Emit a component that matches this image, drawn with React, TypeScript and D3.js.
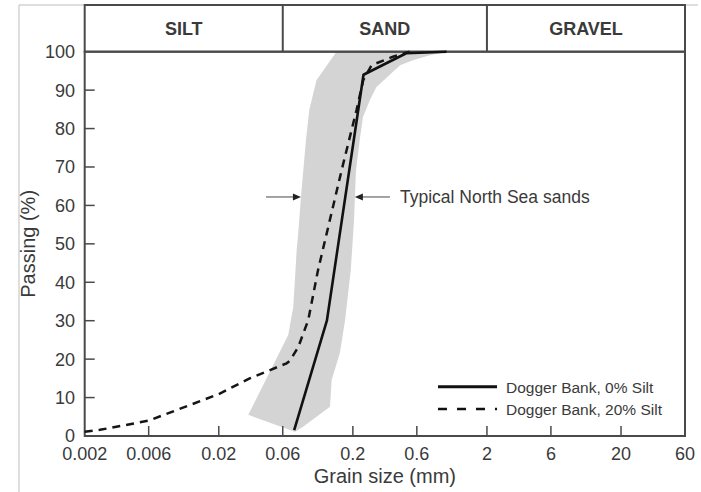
import React from "react";
import * as d3 from "d3";

const xTicks = [0.002, 0.006, 0.02, 0.06, 0.2, 0.6, 2, 6, 20, 60];
const xTickLabels = ["0.002", "0.006", "0.02", "0.06", "0.2", "0.6", "2", "6", "20", "60"];
const yTicks = [0, 10, 20, 30, 40, 50, 60, 70, 80, 90, 100];

const classes = ["SILT", "SAND", "GRAVEL"];
const classBounds = [0.002, 0.06, 2, 60];

// Typical North Sea sands envelope: left boundary (bottom→top), right boundary (top→bottom)
const bandLeft: [number, number][] = [
  [0.0332, 5.5], [0.0659, 26.3], [0.0719, 33.6], [0.0762, 48.4], [0.0783, 52.8],
  [0.082, 62.2], [0.0894, 77], [0.0946, 84.8], [0.107, 92.6], [0.151, 100],
];
const bandRight: [number, number][] = [
  [1.007, 100], [0.75, 99.1], [0.56, 97.8], [0.45, 96.5], [0.30, 90.8], [0.268, 87.4],
  [0.238, 83], [0.225, 77], [0.211, 69.2], [0.204, 56.2], [0.193, 43.2], [0.175, 30.2],
  [0.160, 21.6], [0.139, 14.6], [0.135, 7.6], [0.085, 2.4], [0.074, 1.1],
];

const silt0: [number, number][] = [
  [0.073, 1.5], [0.128, 30], [0.24, 94], [0.5, 99.6], [1.0, 100],
];
const silt20: [number, number][] = [
  [0.002, 1.1], [0.0026, 1.6], [0.006, 4.0], [0.02, 10.9], [0.034, 15.0], [0.064, 18.9],
  [0.068, 19.6], [0.0784, 23.2], [0.093, 30.2], [0.110, 43.2], [0.165, 69.2], [0.213, 84.8],
  [0.239, 92.6], [0.276, 96.5], [0.398, 98.7], [0.53, 100],
];

const legendItems = ["Dogger Bank, 0% Silt", "Dogger Bank, 20% Silt"];
const annotationText = "Typical North Sea sands";
const annotationLevel = 62.2;
const arrowLeft: [number, number] = [0.045, 0.082];
const arrowRight: [number, number] = [0.378, 0.207];
const annotationX = 0.449;

const W = 701;
const H = 492;
const left = 84.7;
const right = 685;
const top = 51.7;
const bottom = 436;
const headerTop = 5;

export default function App() {
  const x = d3.scaleLog().domain([0.002, 60]).range([left, right]);
  const y = d3.scaleLinear().domain([0, 100]).range([bottom, top]);
  const line = d3.line<[number, number]>().x((d) => x(d[0])).y((d) => y(d[1]));
  const bandPath = line([...bandLeft, ...bandRight]) + "Z";
  const axisColor = "#4a4a4a";
  const textColor = "#3a3a3a";
  const font = "Liberation Sans, Arial, Helvetica, sans-serif";
  const ay = y(annotationLevel);

  return (
    <svg width={W} height={H} style={{ position: "absolute", left: 0, top: 0, background: "#fff" }} fontFamily={font}>
      {/* outer frame */}
      <line x1={19} y1={5} x2={698} y2={5} stroke="#bdbdbd" strokeWidth={1} />
      <line x1={19} y1={5} x2={19} y2={H} stroke="#bdbdbd" strokeWidth={1} />

      {/* band */}
      <path d={bandPath} fill="#d4d4d4" stroke="none" />

      {/* header box */}
      <rect x={left} y={headerTop} width={right - left} height={top - headerTop} fill="none" stroke={axisColor} strokeWidth={2} />
      {classBounds.slice(1, -1).map((b) => (
        <line key={b} x1={x(b)} x2={x(b)} y1={headerTop} y2={top} stroke={axisColor} strokeWidth={2} />
      ))}
      {classes.map((c, i) => (
        <text key={c} x={(x(classBounds[i]) + x(classBounds[i + 1])) / 2} y={35} textAnchor="middle"
          fontSize={18} fontWeight="bold" fill={textColor}>{c}</text>
      ))}

      {/* plot box */}
      <rect x={left} y={top} width={right - left} height={bottom - top} fill="none" stroke={axisColor} strokeWidth={2} />

      {/* x ticks */}
      {xTicks.map((t, i) => (
        <g key={t}>
          {i > 0 && i < xTicks.length - 1 && (
            <line x1={x(t)} x2={x(t)} y1={bottom} y2={bottom - 10} stroke={axisColor} strokeWidth={1.5} />
          )}
          <text x={x(t)} y={460} textAnchor="middle" fontSize={18} fill={textColor}>{xTickLabels[i]}</text>
        </g>
      ))}
      {/* y ticks */}
      {yTicks.map((t, i) => (
        <g key={t}>
          {i > 0 && i < yTicks.length - 1 && (
            <line x1={left} x2={left + 10} y1={y(t)} y2={y(t)} stroke={axisColor} strokeWidth={1.5} />
          )}
          <text x={75} y={y(t)} dy="0.36em" textAnchor="end" fontSize={18} fill={textColor}>{t}</text>
        </g>
      ))}

      {/* axis titles */}
      <text x={(left + right) / 2} y={483} textAnchor="middle" fontSize={20} fill={textColor}>Grain size (mm)</text>
      <text transform={`translate(35, ${(top + bottom) / 2}) rotate(-90)`} textAnchor="middle" fontSize={20} fill={textColor}>Passing (%)</text>

      {/* curves */}
      <path d={line(silt20) || ""} fill="none" stroke="#151515" strokeWidth={2.5} strokeDasharray="8,6" />
      <path d={line(silt0) || ""} fill="none" stroke="#111" strokeWidth={2.6} strokeLinejoin="round" />

      {/* annotation arrows */}
      <line x1={x(arrowLeft[0])} x2={x(arrowLeft[1]) - 7} y1={ay} y2={ay} stroke="#666" strokeWidth={1.2} />
      <path d={`M${x(arrowLeft[1])},${ay} l-8,-3.5 l0,7 Z`} fill="#222" />
      <line x1={x(arrowRight[0])} x2={x(arrowRight[1]) + 7} y1={ay} y2={ay} stroke="#666" strokeWidth={1.2} />
      <path d={`M${x(arrowRight[1])},${ay} l8,-3.5 l0,7 Z`} fill="#222" />
      <text x={x(annotationX)} y={ay + 6} fontSize={17.5} fill={textColor}>{annotationText}</text>

      {/* legend */}
      {legendItems.map((l, i) => (
        <g key={l}>
          <line x1={438} x2={497} y1={386.7 + i * 22.3} y2={386.7 + i * 22.3} stroke="#111"
            strokeWidth={i === 0 ? 3 : 2.5} strokeDasharray={i === 0 ? undefined : "9,10"} />
          <text x={506} y={392.5 + i * 22.3} fontSize={15.5} fill={textColor}>{l}</text>
        </g>
      ))}
    </svg>
  );
}
